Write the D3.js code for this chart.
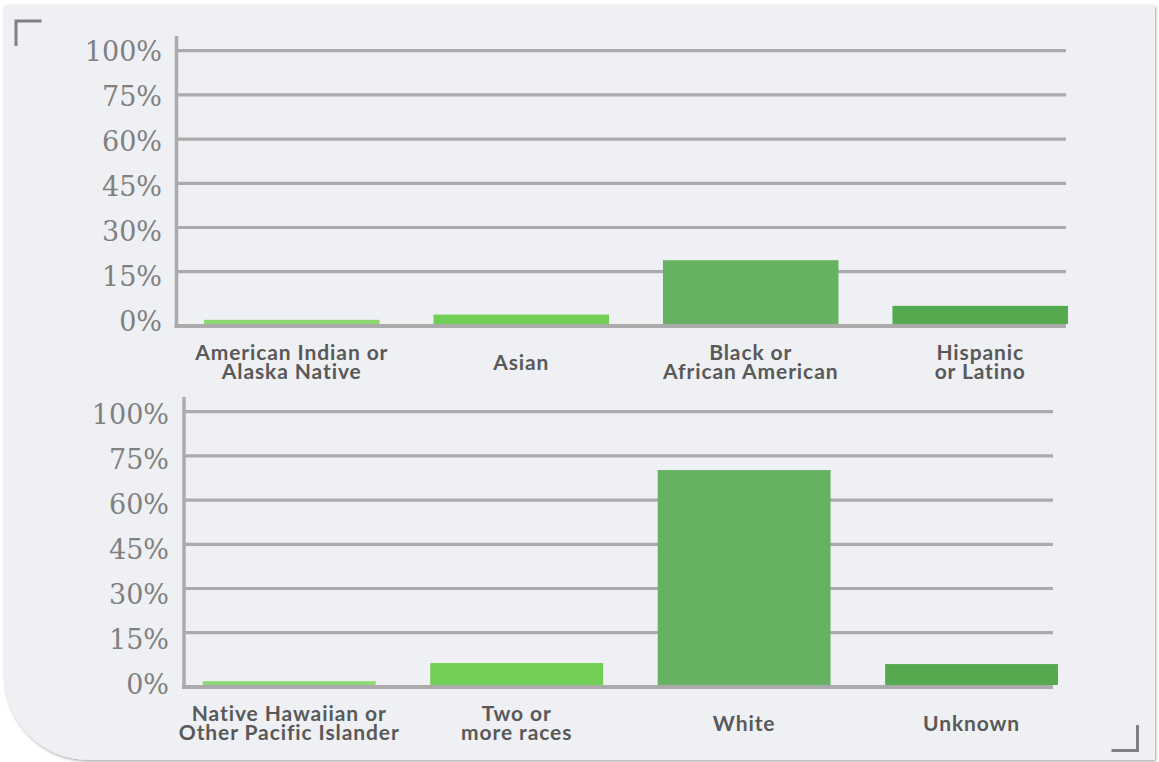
<!DOCTYPE html>
<html><head><meta charset="utf-8">
<script src="https://cdn.jsdelivr.net/npm/d3@7"></script>
<style>html,body{margin:0;padding:0;background:#fff;} svg{display:block}</style>
</head><body><svg id="c" width="1159" height="762"></svg>
<script>
const topCategories = ["American Indian or\nAlaska Native", "Asian", "Black or\nAfrican American", "Hispanic\nor Latino"];
const topValues = [1.2, 2.7, 18.9, 5.2];
const bottomCategories = ["Native Hawaiian or\nOther Pacific Islander", "Two or\nmore races", "White", "Unknown"];
const bottomValues = [1.1, 6.3, 70.2, 6.0];
const tickValues = [0, 15, 30, 45, 60, 75, 100];
const tickLabels = ["0%", "15%", "30%", "45%", "60%", "75%", "100%"];
const barColors = ["#8dd872", "#72cf55", "#66b262", "#55a94f"];

const svg = d3.select("#c");
const defs = svg.append("defs");
const f = defs.append("filter").attr("id","sh").attr("x","-5%").attr("y","-5%").attr("width","110%").attr("height","110%");
f.append("feDropShadow").attr("dx",1).attr("dy",1.5).attr("stdDeviation",1.6).attr("flood-color","#000").attr("flood-opacity",0.35);

// panel
const x0 = 4, y0 = 5, x1 = 1155, y1 = 760, r = 85;
svg.append("path")
  .attr("d", `M${x0},${y0} H${x1} V${y1} H${x0 + r} A${r},${r} 0 0 1 ${x0},${y1 - r} Z`)
  .attr("fill", "#eef0f4").attr("filter", "url(#sh)");

// corner brackets
svg.append("path").attr("d","M16,46 V21 H41.5").attr("fill","none").attr("stroke","#808080").attr("stroke-width",3);
svg.append("path").attr("d","M1111.5,750.5 H1137.5 V725").attr("fill","none").attr("stroke","#808080").attr("stroke-width",3);

const panels = [
  {cats: topCategories, vals: topValues, axisX: 176.5, gridEnd: 1066, gridTop: 50.7, step: 44.2, base: 324,
   axisTop: 36, labelTop: 51, labelBottom: 321.7, labelRight: 162, xRange: [204, 1068], padInner: 0.235},
  {cats: bottomCategories, vals: bottomValues, axisX: 184, gridEnd: 1053, gridTop: 411.7, step: 44.2, base: 685,
   axisTop: 397, labelTop: 413.8, labelBottom: 684.2, labelRight: 169, xRange: [202.8, 1058], padInner: 0.24}
];

panels.forEach(p => {
  const g = svg.append("g");
  const y = d3.scaleLinear().domain(tickValues)
    .range(tickValues.map((v, i) => i === 0 ? p.base : p.gridTop + (tickValues.length - 1 - i) * p.step));
  const x = d3.scaleBand().domain(p.cats).range(p.xRange).paddingInner(p.padInner).paddingOuter(0);
  const ly = d3.scalePoint().domain(tickLabels).range([p.labelBottom, p.labelTop]);

  // gridlines
  g.selectAll(".grid").data(tickValues.slice(1)).enter().append("line")
    .attr("x1", p.axisX).attr("x2", p.gridEnd)
    .attr("y1", d => y(d)).attr("y2", d => y(d))
    .attr("stroke", "#ababab").attr("stroke-width", 3.2);

  // bars
  g.selectAll(".bar").data(p.vals).enter().append("rect")
    .attr("x", (d, i) => x(p.cats[i]))
    .attr("width", x.bandwidth())
    .attr("y", d => y(d))
    .attr("height", d => y(0) - y(d))
    .attr("fill", (d, i) => barColors[i]);

  // baseline
  g.append("line").attr("x1", p.axisX - 2).attr("x2", p.gridEnd)
    .attr("y1", y(0) + 2).attr("y2", y(0) + 2)
    .attr("stroke", "#ababab").attr("stroke-width", 4);
  // vertical axis
  g.append("line").attr("x1", p.axisX).attr("x2", p.axisX)
    .attr("y1", p.axisTop).attr("y2", y(0) + 4)
    .attr("stroke", "#ababab").attr("stroke-width", 3.5);

  // y labels
  g.selectAll(".yl").data(tickLabels).enter().append("text")
    .attr("x", p.labelRight).attr("y", d => ly(d)).attr("dy", "0.36em")
    .attr("text-anchor", "end")
    .style("font-family", "'DejaVu Serif', serif").style("font-size", "27px")
    .attr("fill", "#808080").text(d => d);

  // category labels
  const lineH = 19.5;
  p.cats.forEach(c => {
    const lines = c.split("\n");
    const cx = x(c) + x.bandwidth() / 2;
    const mid = y(0) + 45.5;
    const t = g.append("text").attr("text-anchor", "middle")
      .style("font-family", "Lato, sans-serif").style("font-weight", 700).style("font-size", "21px")
      .style("letter-spacing", "0.9px")
      .attr("fill", "#595959");
    lines.forEach((l, i) => {
      t.append("tspan").attr("x", cx).attr("y", mid + (i - (lines.length - 1) / 2) * lineH).text(l);
    });
  });
});
</script></body></html>
